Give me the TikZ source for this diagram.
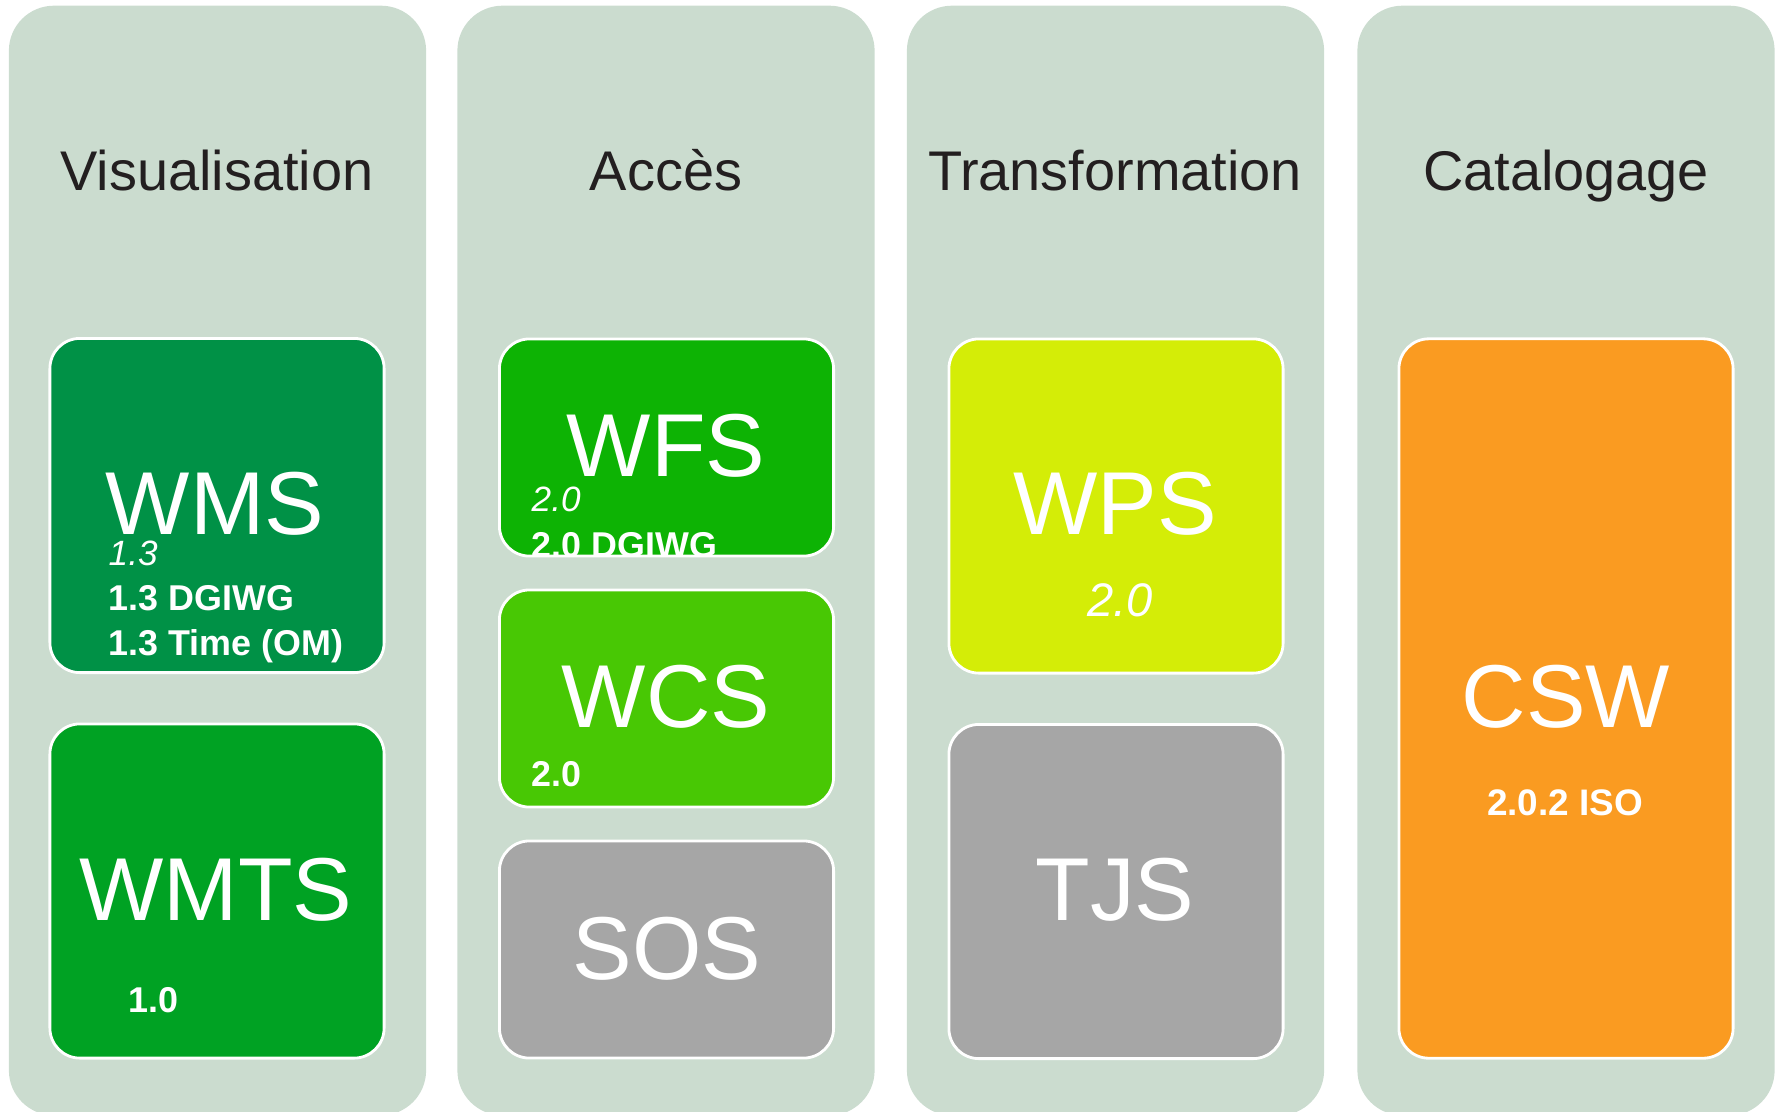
\documentclass[tikz,border=0pt]{standalone}
\usepackage{fontspec}
\setmainfont{Liberation Sans}
\usepackage{tikz}
\usetikzlibrary{positioning,calc}
\definecolor{colbg}{RGB}{203,220,207}
\definecolor{headtxt}{RGB}{35,31,32}
\definecolor{wmsgreen}{RGB}{0,145,70}
\definecolor{wmtsgreen}{RGB}{0,162,35}
\definecolor{wfsgreen}{RGB}{13,179,4}
\definecolor{wcsgreen}{RGB}{72,200,4}
\definecolor{wpsyellow}{RGB}{212,237,7}
\definecolor{greybox}{RGB}{166,166,166}
\definecolor{cswor}{RGB}{250,155,33}
\tikzstyle{colonne}= [rectangle, fill=colbg, rounded corners=0.45cm, minimum width=4.17cm, minimum height=11.09cm, inner sep=0pt]
\tikzstyle{titre}= [text=headtxt, font=\fontsize{15.9}{19}\selectfont, anchor=base, inner sep=0pt]
\tikzstyle{serv}= [rectangle, draw=white, line width=0.8pt, rounded corners=0.3cm, minimum width=3.34cm, inner sep=0pt]
\tikzstyle{sigle}= [text=white, font=\fontsize{25.4}{30}\selectfont, anchor=base, inner sep=0pt]
\tikzstyle{vers}= [text=white, font=\fontsize{10.2}{12}\selectfont\bfseries, anchor=base west, inner sep=0pt]
\tikzstyle{versit}= [text=white, font=\fontsize{10}{12}\selectfont\itshape, anchor=base west, inner sep=0pt]

\begin{document}
\begin{tikzpicture}[x=0.01cm,y=-0.01cm]
	\useasboundingbox (0,0) rectangle (1779,1111);
	\clip (0,0) rectangle (1779,1111);
	% colonnes
	\node[colonne] at (217.5,560.5) (visu) {};
	\node[colonne] at (666,560.5) (acces) {};
	\node[colonne] at (1115.5,560.5) (transfo) {};
	\node[colonne] at (1566,560.5) (catal) {};
	\node[titre] at (217,190) (tvisu) {Visualisation};
	\node[titre] at (666,190) (tacces) {Accès};
	\node[titre] at (1115,190) (ttransfo) {Transformation};
	\node[titre] at (1566,190) (tcatal) {Catalogage};
	% services
	\node[serv, fill=wmsgreen, minimum height=3.34cm] at (217,505.5) (wms) {};
	\node[serv, fill=wmtsgreen, minimum height=3.34cm] at (217,891) (wmts) {};
	\node[serv, fill=wfsgreen, minimum height=2.17cm] at (666.5,447.5) (wfs) {};
	\node[serv, fill=wcsgreen, minimum height=2.17cm] at (666.5,698.5) (wcs) {};
	\node[serv, fill=greybox, minimum height=2.17cm] at (666.5,949.5) (sos) {};
	\node[serv, fill=wpsyellow, minimum height=3.34cm] at (1116,506) (wps) {};
	\node[serv, fill=greybox, minimum height=3.34cm] at (1116,891.5) (tjs) {};
	\node[serv, fill=cswor, minimum height=7.19cm] at (1566,698.5) (csw) {};
	\node[sigle] at (215,534) (lwms) {WMS};
	\node[sigle] at (216,920) (lwmts) {WMTS};
	\node[sigle] at (666,476) (lwfs) {WFS};
	\node[sigle] at (666,727) (lwcs) {WCS};
	\node[sigle] at (667,979) (lsos) {SOS};
	\node[sigle] at (1115,534) (lwps) {WPS};
	\node[sigle] at (1115,920) (ltjs) {TJS};
	\node[sigle] at (1566,727) (lcsw) {CSW};
	% versions
	\node[versit] at (108,565) (vwms1) {1.3};
	\node[vers] at (108,610) (vwms2) {1.3 DGIWG};
	\node[vers] at (108,655) (vwms3) {1.3 Time (OM)};
	\node[vers] at (128,1012) (vwmts) {1.0};
	\node[versit] at (531,511) (vwfs1) {2.0};
	\begin{scope}
		\clip[rounded corners=0.3cm] ($(wfs.south west)+(1,-1)$) rectangle ($(wfs.north east)+(-1,1)$);
		\node[vers] at (531,557) (vwfs2) {2.0 DGIWG};
	\end{scope}
	\node[vers] at (531,786) (vwcs) {2.0};
	\node[text=white, font=\fontsize{13.4}{16}\selectfont\itshape, anchor=base, inner sep=0pt] at (1120,616) (vwps) {2.0};
	\node[text=white, font=\fontsize{10.5}{12}\selectfont\bfseries, anchor=base, inner sep=0pt] at (1565,815) (vcsw) {2.0.2 ISO};
\end{tikzpicture}
\end{document}
